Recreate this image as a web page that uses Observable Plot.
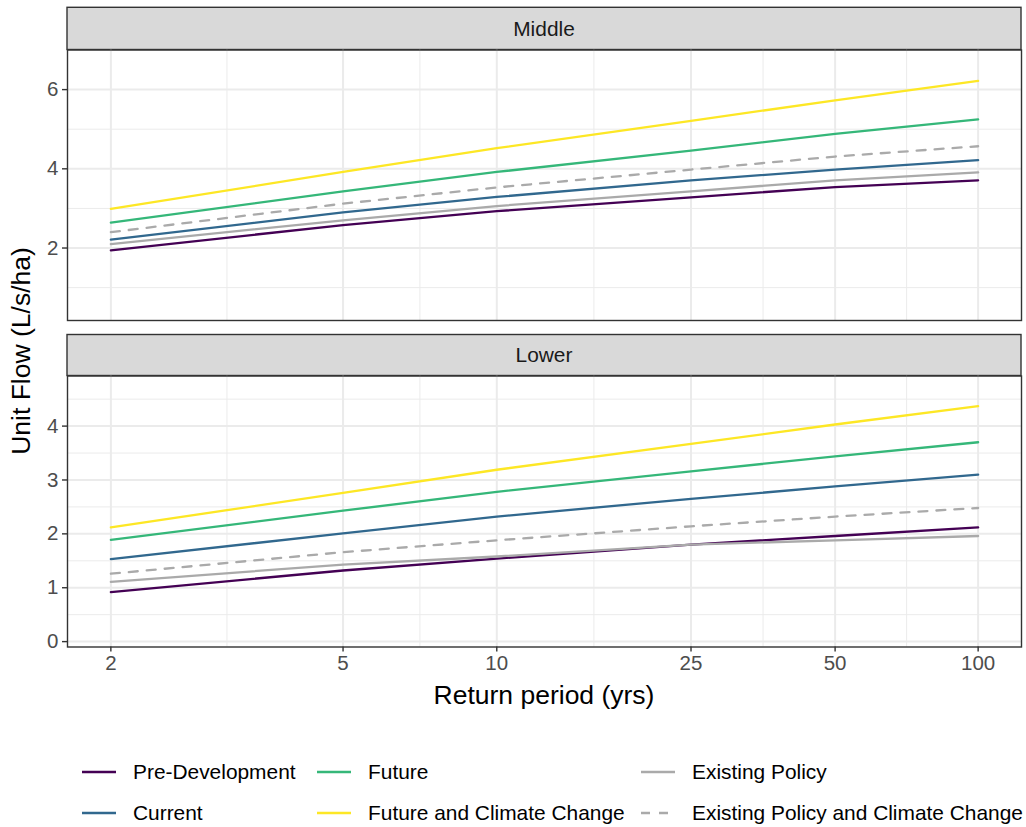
<!DOCTYPE html>
<html><head><meta charset="utf-8">
<script src="https://cdn.jsdelivr.net/npm/d3@7"></script>
<script src="https://cdn.jsdelivr.net/npm/@observablehq/plot@0.6"></script>
<style>
html,body{margin:0;padding:0;background:#fff;}
#fig{position:relative;width:1026px;height:827px;font-family:"Liberation Sans",Arial,sans-serif;background:#fff;}
#fig > svg{position:absolute;left:0;}
</style></head><body><div id="fig"></div>
<script>
// ---- data ----
const returnPeriods = [2, 5, 10, 25, 50, 100];
const seriesNames = ["Pre-Development", "Current", "Future", "Future and Climate Change", "Existing Policy", "Existing Policy and Climate Change"];
const seriesColors = ["#440154", "#31688E", "#35B779", "#FDE725", "#AAAAAA", "#AAAAAA"];
const dashedSeries = ["Existing Policy and Climate Change"];
const facetNames = ["Middle", "Lower"];

const middlePreDevelopment = [1.94, 2.58, 2.93, 3.28, 3.54, 3.71];
const middleCurrent = [2.21, 2.90, 3.29, 3.71, 3.98, 4.22];
const middleFuture = [2.64, 3.43, 3.92, 4.46, 4.88, 5.25];
const middleFutureClimate = [2.99, 3.92, 4.52, 5.21, 5.73, 6.22];
const middleExistingPolicy = [2.10, 2.70, 3.06, 3.43, 3.71, 3.91];
const middleExistingPolicyClimate = [2.40, 3.12, 3.53, 3.98, 4.31, 4.57];

const lowerPreDevelopment = [0.92, 1.32, 1.54, 1.80, 1.96, 2.12];
const lowerCurrent = [1.53, 2.01, 2.32, 2.65, 2.88, 3.10];
const lowerFuture = [1.89, 2.43, 2.78, 3.16, 3.44, 3.70];
const lowerFutureClimate = [2.12, 2.76, 3.19, 3.67, 4.03, 4.37];
const lowerExistingPolicy = [1.11, 1.43, 1.58, 1.80, 1.88, 1.96];
const lowerExistingPolicyClimate = [1.26, 1.66, 1.88, 2.14, 2.32, 2.48];

const middleYTicks = [2, 4, 6];
const lowerYTicks = [0, 1, 2, 3, 4];
const middleYDomain = [0.17, 7.0];
const lowerYDomain = [-0.10, 4.93];

const xTitle = "Return period (yrs)";
const yTitle = "Unit Flow (L/s/ha)";

// ---- helpers ----
const gumbel = T => -Math.log(-Math.log(1 - 1 / T)); // Gumbel reduced variate axis
const xMajor = returnPeriods.map(gumbel);
const tLabel = new Map(xMajor.map((g, i) => [g, String(returnPeriods[i])]));
const mids = a => a.slice(1).map((v, i) => (v + a[i]) / 2);
const xMinor = mids(xMajor);
const gSpan = xMajor[xMajor.length - 1] - xMajor[0];
const xDomain = [xMajor[0] - 0.05 * gSpan, xMajor[xMajor.length - 1] + 0.05 * gSpan];

function rowsFor(arrays) {
  const rows = [];
  arrays.forEach((vals, s) => vals.forEach((v, i) => rows.push({
    series: seriesNames[s], T: returnPeriods[i], g: gumbel(returnPeriods[i]), value: v
  })));
  return rows;
}
const middleRows = rowsFor([middlePreDevelopment, middleCurrent, middleFuture, middleFutureClimate, middleExistingPolicy, middleExistingPolicyClimate]);
const lowerRows = rowsFor([lowerPreDevelopment, lowerCurrent, lowerFuture, lowerFutureClimate, lowerExistingPolicy, lowerExistingPolicyClimate]);

const FONT = '"Liberation Sans", Arial, sans-serif';
const TICK_FS = 20.5, STRIP_FS = 20.9, LEGEND_FS = 20.9, TITLE_FS = 26.5;
const fig = document.getElementById("fig");

function panel(rows, yTicks, yDomain, showX, top, height, marginBottom) {
  const yMinor = mids(yTicks);
  const step = yTicks[1] - yTicks[0];
  const extra = [yTicks[0] - step / 2, yTicks[yTicks.length - 1] + step / 2].filter(v => v > yDomain[0] && v < yDomain[1]);
  const chart = Plot.plot({
    width: 1026, height, marginLeft: 67, marginRight: 5, marginTop: 9.5, marginBottom,
    style: {background: "transparent", overflow: "visible", fontFamily: FONT, fontSize: TICK_FS + "px"},
    x: {domain: xDomain, axis: null},
    y: {domain: yDomain, axis: null},
    color: {domain: seriesNames, range: seriesColors},
    marks: [
      Plot.ruleX(xMinor, {stroke: "#EBEBEB", strokeWidth: 1}),
      Plot.ruleY(yMinor.concat(extra), {stroke: "#EBEBEB", strokeWidth: 1}),
      Plot.ruleX(xMajor, {stroke: "#EBEBEB", strokeWidth: 2}),
      Plot.ruleY(yTicks, {stroke: "#EBEBEB", strokeWidth: 2}),
      Plot.line(rows, {filter: d => !dashedSeries.includes(d.series), x: "g", y: "value", z: "series", stroke: "series", strokeWidth: 2.3}),
      Plot.line(rows, {filter: d => dashedSeries.includes(d.series), x: "g", y: "value", z: "series", stroke: "series", strokeWidth: 2.3, strokeDasharray: "9,9"}),
      Plot.frame({stroke: "#333333", strokeWidth: 1.4}),
      Plot.axisY(yTicks, {tickSize: 5, tickPadding: 4, stroke: "#333333", strokeWidth: 1.4, fill: "#4D4D4D", fontSize: TICK_FS, label: null, tickFormat: d => String(d)}),
      showX ? Plot.axisX(xMajor, {tickSize: 5, tickPadding: 3, stroke: "#333333", strokeWidth: 1.4, fill: "#4D4D4D", fontSize: TICK_FS, label: null, tickFormat: d => tLabel.get(d)}) : null
    ]
  });
  chart.style.position = "absolute";
  chart.style.top = top + "px";
  chart.style.left = "0px";
  return chart;
}

// overlay: strips, titles, legend
const W = 1026, H = 827;
const overlay = d3.create("svg").attr("width", W).attr("height", H)
  .style("position", "absolute").style("top", "0px").style("left", "0px")
  .attr("font-family", FONT);

const strips = [{name: facetNames[0], y0: 7.3, y1: 49.5}, {name: facetNames[1], y0: 334.5, y1: 375.5}];
strips.forEach(s => {
  overlay.append("rect").attr("x", 67).attr("y", s.y0).attr("width", 1021 - 67).attr("height", s.y1 - s.y0)
    .attr("fill", "#D9D9D9").attr("stroke", "#333333").attr("stroke-width", 1.4);
  overlay.append("text").attr("x", 544).attr("y", (s.y0 + s.y1) / 2).attr("dy", "0.35em")
    .attr("text-anchor", "middle").attr("font-size", STRIP_FS).attr("fill", "#1A1A1A").text(s.name);
});

overlay.append("text").attr("x", 544).attr("y", 704).attr("text-anchor", "middle")
  .attr("font-size", TITLE_FS).attr("fill", "#000").text(xTitle);
overlay.append("text").attr("transform", "translate(30,351) rotate(-90)").attr("text-anchor", "middle")
  .attr("font-size", TITLE_FS).attr("fill", "#000").text(yTitle);

// legend (column-major, 3 columns x 2 rows)
const keyX = [82, 317, 641], textX = [133, 368, 692], rowY = [772, 813];
const colorOf = new Map(seriesNames.map((s, i) => [s, seriesColors[i]]));
seriesNames.forEach((s, i) => {
  const c = Math.floor(i / 2), r = i % 2;
  overlay.append("line").attr("x1", keyX[c]).attr("x2", keyX[c] + 34).attr("y1", rowY[r]).attr("y2", rowY[r])
    .attr("stroke", colorOf.get(s)).attr("stroke-width", 2.3)
    .attr("stroke-dasharray", dashedSeries.includes(s) ? "9,9" : null);
  overlay.append("text").attr("x", textX[c]).attr("y", rowY[r]).attr("dy", "0.35em")
    .attr("font-size", LEGEND_FS).attr("fill", "#000").text(s);
});

fig.appendChild(overlay.node());
fig.appendChild(panel(middleRows, middleYTicks, middleYDomain, false, 40, 290, 10));
fig.appendChild(panel(lowerRows, lowerYTicks, lowerYDomain, true, 366, 320.5, 40));
</script>
</body></html>
